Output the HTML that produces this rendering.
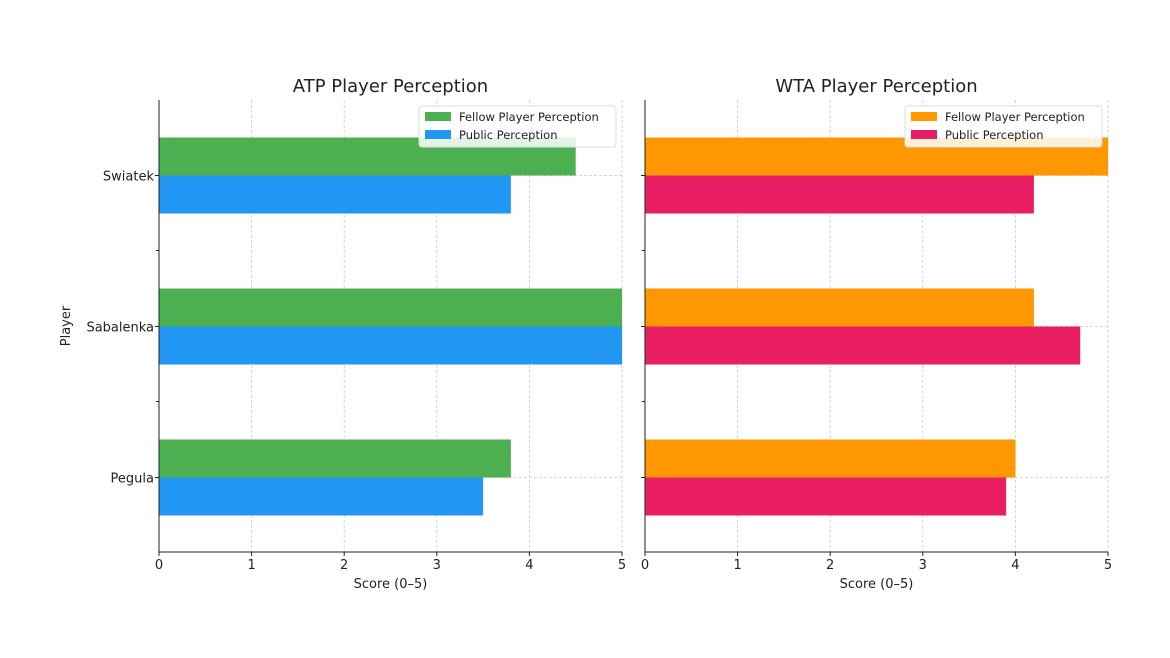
<!DOCTYPE html>
<html><head><meta charset="utf-8"><style>
html,body{margin:0;padding:0;background:#fff;}
svg text{font-family:"DejaVu Sans","Liberation Sans",sans-serif;fill:#222;}
</style></head><body>
<svg id="chart" width="1170" height="653" xmlns="http://www.w3.org/2000/svg"></svg>
<script>
const players = ["Swiatek","Sabalenka","Pegula"];
const atpFellow = [4.5, 5.0, 3.8];
const atpPublic = [3.8, 5.0, 3.5];
const wtaFellow = [5.0, 4.2, 4.0];
const wtaPublic = [4.2, 4.7, 3.9];
const xTicks = [0,1,2,3,4,5];
const seriesNames = ["Fellow Player Perception","Public Perception"];

const svgEl = document.getElementById('chart');
const NS = "http://www.w3.org/2000/svg";
function mk(tag, attrs, parent){const e=document.createElementNS(NS,tag);for(const k in attrs)e.setAttribute(k,attrs[k]);(parent||svgEl).appendChild(e);return e;}
const topY=100,bottomY=552;
const yPos = i => topY + 75.5 + i*151;
function panel(x0, title, fellow, pub, c1, c2, name, showY){
  const w=463; const xs=v=>x0+v/5*w;
  const g=mk('g',{});
  
  
  xTicks.forEach(t=>{const l=mk('line',{x1:xs(t),x2:xs(t),y1:topY,y2:bottomY,stroke:'#ccc','stroke-dasharray':'3,2','stroke-width':0.8},g);
    
    });
  players.forEach((p,i)=>{const l=mk('line',{x1:x0,x2:x0+w,y1:yPos(i),y2:yPos(i),stroke:'#ccc','stroke-dasharray':'3,2','stroke-width':0.8},g);
    
    });
  players.forEach((p,i)=>{
    const b1=mk('rect',{x:x0,y:yPos(i)-38,width:xs(fellow[i])-x0,height:38,fill:c1},g);
    
    
    const b2=mk('rect',{x:x0,y:yPos(i),width:xs(pub[i])-x0,height:38,fill:c2},g);
    
    
    if(showY){const t=mk('text',{x:x0-5,y:yPos(i)+5,'text-anchor':'end','font-size':13},g);t.textContent=p;
      
      }
    mk('line',{x1:x0-4,x2:x0,y1:yPos(i),y2:yPos(i),stroke:'#222'},g);
  });
  [250.5,401.5].forEach(y=>mk('line',{x1:x0-3,x2:x0,y1:y,y2:y,stroke:'#222'},g));
  mk('line',{x1:x0,x2:x0,y1:topY,y2:bottomY,stroke:'#222','stroke-width':1},g);
  mk('line',{x1:x0,x2:x0+w,y1:bottomY,y2:bottomY,stroke:'#222','stroke-width':1},g);
  xTicks.forEach(t=>{mk('line',{x1:xs(t),x2:xs(t),y1:bottomY,y2:bottomY+4,stroke:'#222'},g);
    const tx=mk('text',{x:xs(t),y:bottomY+17,'text-anchor':'middle','font-size':13},g);tx.textContent=t;
    
    });
  const xt=mk('text',{x:x0+w/2,y:588,'text-anchor':'middle','font-size':13},g);xt.textContent='Score (0–5)';
  
  
  const tt=mk('text',{x:x0+w/2,y:92,'text-anchor':'middle','font-size':18},g);tt.textContent=title;
  
  
  const lg=mk('g',{},g);
  
  
  const lx=x0+w-203;
  mk('rect',{x:lx,y:106,width:197,height:41,fill:'#fff','fill-opacity':0.85,stroke:'#ddd',rx:3},lg);
  [c1,c2].forEach((c,k)=>{mk('rect',{x:lx+6,y:112+k*18,width:26,height:9,fill:c},lg);
    const t=mk('text',{x:lx+40,y:121+k*18,'font-size':11.5},lg);t.textContent=seriesNames[k];
    
    });
}
panel(159,'ATP Player Perception',atpFellow,atpPublic,'#4CAF50','#2196F3','atp',true);
panel(645,'WTA Player Perception',wtaFellow,wtaPublic,'#FF9800','#E91E63','wta',false);
const yl=mk('text',{x:0,y:0,'text-anchor':'middle','font-size':13,transform:'translate(70,326) rotate(-90)'});
yl.textContent='Player';


</script>
</body></html>
